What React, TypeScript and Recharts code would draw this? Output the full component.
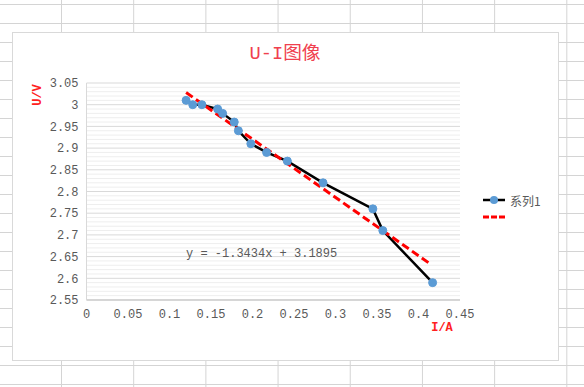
import React from "react";
import { ComposedChart, Line, XAxis, YAxis, CartesianGrid } from "recharts";

// measured current (A) and voltage (V)
const currentA = [0.12, 0.128, 0.139, 0.158, 0.164, 0.178, 0.183, 0.198, 0.217, 0.242, 0.285, 0.345, 0.357, 0.417];
const voltageV = [3.01, 3.0, 3.0, 2.99, 2.98, 2.96, 2.94, 2.91, 2.89, 2.87, 2.82, 2.76, 2.71, 2.59];

// linear trend line end points
const trendX = [0.12, 0.412];
const trendU = [3.028, 2.636];
const trendLabel = "y = -1.3434x + 3.1895";

const xTicks = [0, 0.05, 0.1, 0.15, 0.2, 0.25, 0.3, 0.35, 0.4, 0.45];
const yTicks = [2.55, 2.6, 2.65, 2.7, 2.75, 2.8, 2.85, 2.9, 2.95, 3, 3.05];

const seriesName = "系列1";
const title = "U-I图像";

const points = currentA.map((x, i) => ({ x, u: voltageV[i] }));
const trend = trendX.map((x, i) => ({ x, t: trendU[i] }));

// minor gridlines every 0.01 between the major ticks
const minorY: number[] = [];
yTicks.slice(0, -1).forEach((v) => {
  for (let k = 1; k < 5; k++) minorY.push(Math.round((v + k * 0.01) * 100) / 100);
});

const mono = "'Liberation Mono', 'Noto Sans CJK SC', monospace";
const cjk = "'Noto Sans CJK SC', 'Liberation Sans', sans-serif";

const CHART_W = 584;
const CHART_H = 387;

export default function App() {
  return (
    <div
      style={{
        position: "fixed",
        left: 0,
        top: 0,
        width: CHART_W,
        height: CHART_H,
        overflow: "hidden",
        backgroundColor: "#fff",
        backgroundImage:
          "linear-gradient(to bottom, #d4d4d4 1px, transparent 1px), linear-gradient(to right, #d4d4d4 1px, transparent 1px)",
        backgroundSize: "72.2px 19px",
        backgroundPosition: "61px 4px",
      }}
    >
      {/* chart area */}
      <div
        style={{
          position: "absolute",
          left: 12,
          top: 32,
          width: 545,
          height: 327,
          background: "#fff",
          border: "1px solid #d9d9d9",
        }}
      />
      <div
        style={{
          position: "absolute",
          left: 0,
          width: 570,
          top: 37,
          textAlign: "center",
          fontFamily: mono,
          fontSize: 18.7,
          color: "#f0404e",
        }}
      >
        {title}
      </div>
      <div
        style={{
          position: "absolute",
          left: 38,
          top: 95,
          transform: "translate(-50%, -50%) rotate(-90deg)",
          fontFamily: mono,
          fontSize: 12,
          fontWeight: "bold",
          color: "#ff2020",
        }}
      >
        U/V
      </div>
      <div
        style={{
          position: "absolute",
          left: 442,
          top: 328,
          transform: "translate(-50%, -50%)",
          fontFamily: mono,
          fontSize: 12,
          fontWeight: "bold",
          color: "#ff2020",
        }}
      >
        I/A
      </div>

      <div style={{ position: "absolute", left: 0, top: 0 }}>
        <ComposedChart
          width={CHART_W}
          height={CHART_H}
          margin={{ top: 83, right: 124, bottom: 57, left: 26.5 }}
        >
          <CartesianGrid vertical={false} horizontalValues={minorY} stroke="#eeeeee" />
          <CartesianGrid vertical={false} horizontalValues={yTicks} stroke="#d9d9d9" />
          <XAxis
            type="number"
            dataKey="x"
            domain={[0, 0.45]}
            ticks={xTicks}
            interval={0}
            allowDuplicatedCategory={false}
            tickLine={false}
            axisLine={{ stroke: "#bfbfbf" }}
            tick={{ fill: "#595959", fontSize: 12, fontFamily: mono }}
            tickMargin={3}
            height={30}
          />
          <YAxis
            type="number"
            domain={[2.55, 3.05]}
            ticks={yTicks}
            interval={0}
            tickLine={false}
            axisLine={{ stroke: "#d9d9d9" }}
            tick={{ fill: "#595959", fontSize: 12, fontFamily: mono }}
            tickMargin={2}
            width={60}
          />
          <Line
            data={points}
            dataKey="u"
            type="linear"
            stroke="#000"
            strokeWidth={2.5}
            dot={{ r: 4, fill: "#5b9bd5", stroke: "#5b9bd5", strokeWidth: 1 }}
            isAnimationActive={false}
          />
          <Line
            data={trend}
            dataKey="t"
            type="linear"
            stroke="#ff0000"
            strokeWidth={3}
            strokeDasharray="8 4"
            dot={false}
            isAnimationActive={false}
          />
        </ComposedChart>
      </div>

      <div
        style={{
          position: "absolute",
          left: 186,
          top: 254,
          transform: "translateY(-50%)",
          fontFamily: mono,
          fontSize: 12,
          color: "#595959",
          whiteSpace: "pre",
        }}
      >
        {trendLabel}
      </div>

      {/* legend */}
      <svg style={{ position: "absolute", left: 480, top: 190 }} width={30} height={36}>
        <line x1={3} y1={10} x2={25} y2={10} stroke="#000" strokeWidth={2.5} />
        <circle cx={14} cy={10} r={4} fill="#5b9bd5" />
        <line x1={3} y1={27} x2={25} y2={27} stroke="#ff0000" strokeWidth={3} strokeDasharray="6 2" />
      </svg>
      <div
        style={{
          position: "absolute",
          left: 510,
          top: 200,
          transform: "translateY(-50%)",
          fontFamily: cjk,
          fontSize: 12,
          color: "#595959",
        }}
      >
        {seriesName}
      </div>
    </div>
  );
}
